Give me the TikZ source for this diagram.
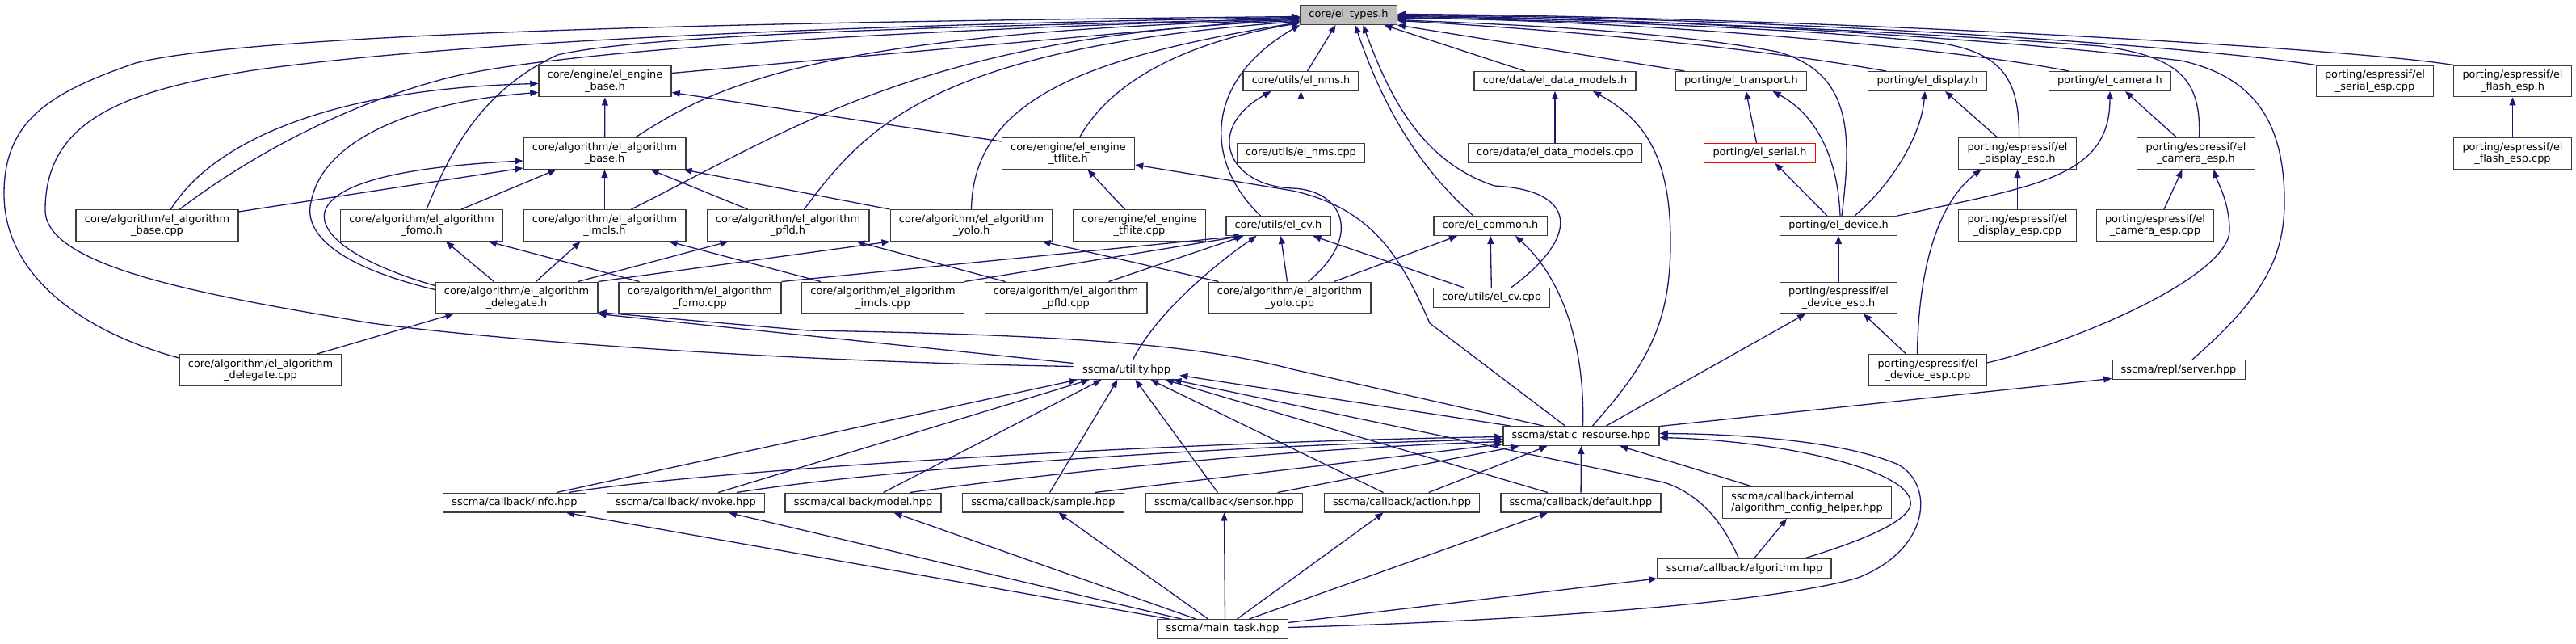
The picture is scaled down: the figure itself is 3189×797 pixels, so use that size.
\documentclass[tikz,border=0pt]{standalone}
\usepackage{fontspec}
\setmainfont{DejaVu Sans}
\usetikzlibrary{arrows.meta}
\definecolor{linkblue}{RGB}{25, 25, 112}
\definecolor{rootgrey}{RGB}{191, 191, 191}
\definecolor{boxline}{RGB}{60, 60, 60}

\begin{document}
\begin{tikzpicture}[x=1pt, y=-1pt,
  filebox/.style={draw=boxline, line width=1.3pt, fill=white, inner xsep=10.8pt, inner ysep=0pt,
    minimum height=23.7pt, font=\fontsize{12.9pt}{14.7pt}\selectfont},
  twobox/.style={filebox, align=center, minimum height=38.7pt},
  link/.style={linkblue, line width=1.3pt, -{Triangle[length=10pt,width=8pt]}}]
  \useasboundingbox (0,0) rectangle (3189,797);
  % Root header
  \node[filebox, fill=rootgrey] (types) at (1669.5,18.5) {core/el\_types.h};
  % Second row
  \node[twobox] (ebase) at (749,100.5) {core/engine/el\_engine\\\_base.h};
  \node[filebox] (nms) at (1610.5,100.5) {core/utils/el\_nms.h};
  \node[filebox] (dmh) at (1925,100.5) {core/data/el\_data\_models.h};
  \node[filebox] (transport) at (2155.5,100.5) {porting/el\_transport.h};
  \node[filebox] (display) at (2386,100.5) {porting/el\_display.h};
  \node[filebox] (camera) at (2612,100.5) {porting/el\_camera.h};
  \node[twobox] (serialesp) at (2940,100.5) {porting/espressif/el\\\_serial\_esp.cpp};
  \node[twobox] (flashesph) at (3110.5,100.5) {porting/espressif/el\\\_flash\_esp.h};
  % Third row
  \node[twobox] (abase) at (748.5,190) {core/algorithm/el\_algorithm\\\_base.h};
  \node[twobox] (tflh) at (1322.5,190) {core/engine/el\_engine\\\_tflite.h};
  \node[filebox] (nmscpp) at (1610.5,189.5) {core/utils/el\_nms.cpp};
  \node[filebox] (dmcpp) at (1925,189.5) {core/data/el\_data\_models.cpp};
  \node[filebox, draw=red] (serial) at (2178.5,189.5) {porting/el\_serial.h};
  \node[twobox] (dispesph) at (2497.5,190) {porting/espressif/el\\\_display\_esp.h};
  \node[twobox] (camesph) at (2718.5,190) {porting/espressif/el\\\_camera\_esp.h};
  \node[twobox] (flashespcpp) at (3110.5,190) {porting/espressif/el\\\_flash\_esp.cpp};
  % Fourth row
  \node[twobox] (bcpp) at (194.5,279) {core/algorithm/el\_algorithm\\\_base.cpp};
  \node[twobox] (fomoh) at (522,279) {core/algorithm/el\_algorithm\\\_fomo.h};
  \node[twobox] (imclsh) at (748.5,279) {core/algorithm/el\_algorithm\\\_imcls.h};
  \node[twobox] (pfldh) at (975.5,279) {core/algorithm/el\_algorithm\\\_pfld.h};
  \node[twobox] (yoloh) at (1202.5,279) {core/algorithm/el\_algorithm\\\_yolo.h};
  \node[twobox] (tflcpp) at (1410.5,279) {core/engine/el\_engine\\\_tflite.cpp};
  \node[filebox] (cvh) at (1582.5,279.5) {core/utils/el\_cv.h};
  \node[filebox] (common) at (1845,279.5) {core/el\_common.h};
  \node[filebox] (device) at (2276,279.5) {porting/el\_device.h};
  \node[twobox] (dispespcpp) at (2497.5,279) {porting/espressif/el\\\_display\_esp.cpp};
  \node[twobox] (camespcpp) at (2668,279) {porting/espressif/el\\\_camera\_esp.cpp};
  % Fifth row
  \node[twobox] (dh) at (639.5,368.5) {core/algorithm/el\_algorithm\\\_delegate.h};
  \node[twobox] (fomocpp) at (866.5,368.5) {core/algorithm/el\_algorithm\\\_fomo.cpp};
  \node[twobox] (imclscpp) at (1093,368.5) {core/algorithm/el\_algorithm\\\_imcls.cpp};
  \node[twobox] (pfldcpp) at (1319.5,368.5) {core/algorithm/el\_algorithm\\\_pfld.cpp};
  \node[twobox] (yolocpp) at (1596.5,368.5) {core/algorithm/el\_algorithm\\\_yolo.cpp};
  \node[filebox] (cvcpp) at (1846.5,368.5) {core/utils/el\_cv.cpp};
  \node[twobox] (desph) at (2276,368.5) {porting/espressif/el\\\_device\_esp.h};
  % Sixth row
  \node[twobox] (dcpp) at (322.5,458) {core/algorithm/el\_algorithm\\\_delegate.cpp};
  \node[filebox] (util) at (1394.5,457.5) {sscma/utility.hpp};
  \node[twobox] (despcpp) at (2386.5,458) {porting/espressif/el\\\_device\_esp.cpp};
  \node[filebox] (server) at (2697,457.5) {sscma/repl/server.hpp};
  % Resource hub and callbacks
  \node[filebox] (res) at (1957.5,539.5) {sscma/static\_resourse.hpp};
  \foreach \n/\x/\f in {info/637/info, invoke/849/invoke, model/1068.5/model, sample/1291.5/sample,
      sensor/1515.5/sensor, action/1735.5/action, dflt/1957/default}
    \node[filebox] (\n) at (\x,622) {sscma/callback/\f.hpp};
  \node[filebox, align=left, minimum height=38.7pt] (helper) at (2237,622) {sscma/callback/internal\\/algorithm\_config\_helper.hpp};
  \node[filebox] (algo) at (2159.5,703.5) {sscma/callback/algorithm.hpp};
  \node[filebox] (main) at (1513.5,778.5) {sscma/main\_task.hpp};

  % Into the root from the left
  \draw[link] ([yshift=-5pt]dcpp.north west) .. controls (100,410) and (5,340) .. (5,240) .. controls (5,150) and (60,115) .. (168,78) .. controls (300,45) and (800,28) .. ([yshift=-2pt]types.west);
  \draw[link] ([yshift=4pt]util.west) .. controls (1000,448) and (650,425) .. (460,400) .. controls (250,365) and (56,330) .. (56,260) .. controls (56,150) and (150,112) .. (320,86) .. controls (600,48) and (1100,30) .. ([yshift=-3pt]types.west);
  \draw[link] ([xshift=28pt]bcpp.north) .. controls (300,200) and (420,130) .. (560,95) .. controls (700,62) and (1100,38) .. ([yshift=-4pt]types.west);
  \draw[link] ([xshift=6pt]fomoh.north) .. controls (560,180) and (600,110) .. (690,68) .. controls (800,42) and (1200,32) .. ([yshift=-5pt]types.west);
  \draw[link] ([yshift=10pt]ebase.east) -- ([yshift=-3pt]types.west);
  \draw[link] ([xshift=38pt]abase.north) .. controls (880,110) and (1000,40) .. ([yshift=-6pt]types.west);
  \draw[link] ([xshift=33pt]imclsh.north) .. controls (981,159) and (1150,42) .. ([yshift=-7pt]types.west);
  \draw[link] ([xshift=20pt]pfldh.north) .. controls (1070,160) and (1150,60) .. ([yshift=-8pt]types.west);
  \draw[link] (yoloh.north) .. controls (1205,120) and (1350,70) .. ([yshift=-9pt]types.west);
  \draw[link] ([xshift=14pt]tflh.north) .. controls (1370,110) and (1450,55) .. ([yshift=-10pt]types.west);
  \draw[link] ([xshift=-22pt]cvh.north) .. controls (1490,200) and (1490,100) .. (types.south west);
  % Into the root from below
  \draw[link] ([xshift=8pt]nms.north) -- ([xshift=-16pt]types.south);
  \draw[link] ([xshift=-21pt]common.north) .. controls (1760,210) and (1715,140) .. ([xshift=8pt]types.south);
  \draw[link] ([xshift=24pt]cvcpp.north) .. controls (1960,290) and (1950,235) .. (1850,230) .. controls (1760,200) and (1720,120) .. ([xshift=18pt]types.south);
  \draw[link] ([xshift=-37pt]dmh.north) -- ([xshift=44pt]types.south);
  % Into the root from the right
  \draw[link] ([xshift=-70pt]transport.north) -- (types.south east);
  \draw[link] ([xshift=4pt]device.north) .. controls (2292,170) and (2295,90) .. (2200,64) .. controls (2050,36) and (1850,30) .. ([yshift=-6pt]types.east);
  \draw[link] ([xshift=-51pt]display.north) .. controls (2150,55) and (1900,35) .. ([yshift=-7pt]types.east);
  \draw[link] ([xshift=2pt]dispesph.north) .. controls (2500,100) and (2480,65) .. (2400,53) .. controls (2200,32) and (1900,24) .. ([yshift=-4pt]types.east);
  \draw[link] ([xshift=-51pt]camera.north) .. controls (2450,65) and (2100,28) .. ([yshift=-3pt]types.east);
  \draw[link] ([xshift=4pt]camesph.north) .. controls (2725,100) and (2700,70) .. (2600,57) .. controls (2300,35) and (2000,24) .. ([yshift=-2pt]types.east);
  \draw[link] ([xshift=17pt]server.north) .. controls (2800,370) and (2828,320) .. (2828,250) .. controls (2828,150) and (2790,95) .. (2700,75) .. controls (2400,40) and (2000,22) .. ([yshift=-1pt]types.east);
  \draw[link] (serialesp.north west) .. controls (2700,55) and (2200,22) .. (types.east);
  \draw[link] (flashesph.north west) .. controls (2900,58) and (2200,20) .. ([yshift=1pt]types.east);

  % Engine and algorithm bases
  \draw[link] (abase) -- (ebase);
  \draw[link] ([xshift=17pt]bcpp.north) .. controls (260,180) and (400,110) .. ([yshift=-3pt]ebase.west);
  \draw[link] ([yshift=10pt]dh.west) .. controls (420,330) and (375,290) .. (385,250) .. controls (400,170) and (520,125) .. ([yshift=-14pt]ebase.west);
  \draw[link] ([yshift=15pt]tflh.west) -- ([yshift=-14pt]ebase.east);
  \draw[link] ([yshift=17pt]bcpp.east) -- ([yshift=-18pt]abase.west);
  \draw[link] ([yshift=15pt]dh.west) .. controls (440,325) and (395,290) .. (402,262) .. controls (415,220) and (530,205) .. ([yshift=-9pt]abase.west);
  \draw[link] ([xshift=49pt]fomoh.north) -- ([xshift=-60pt]abase.south);
  \draw[link] (imclsh) -- (abase);
  \draw[link] ([xshift=-50pt]pfldh.north) -- ([xshift=57pt]abase.south);
  \draw[link] (yoloh.north west) -- ([xshift=-3pt]abase.south east);
  \draw[link] ([xshift=-18pt]tflcpp.north) -- ([xshift=24pt]tflh.south);
  % Delegate and algorithm sources
  \draw[link] ([xshift=-28pt]dh.north) -- ([xshift=30pt]fomoh.south);
  \draw[link] ([xshift=24pt]dh.north) -- ([xshift=-30pt]imclsh.south);
  \draw[link] ([xshift=76pt]dh.north) -- ([xshift=-74pt]pfldh.south);
  \draw[link] (dh.north east) -- (yoloh.south west);
  \draw[link] ([xshift=70pt]dcpp.north) -- ([xshift=-78pt]dh.south);
  \draw[link] ([xshift=-75pt]fomocpp.north) -- ([xshift=83pt]fomoh.south);
  \draw[link] (fomocpp.north east) -- ([xshift=-45pt]cvh.south);
  \draw[link] ([xshift=-77pt]imclscpp.north) -- ([xshift=80pt]imclsh.south);
  \draw[link] (imclscpp.north east) -- ([xshift=-44pt]cvh.south);
  \draw[link] ([xshift=-75pt]pfldcpp.north) -- ([xshift=85pt]pfldh.south);
  \draw[link] ([xshift=53pt]pfldcpp.north) -- ([xshift=-43pt]cvh.south);
  \draw[link] ([xshift=-88pt]yolocpp.north) -- ([xshift=88pt]yoloh.south);
  \draw[link] ([xshift=-3pt]yolocpp.north) -- ([xshift=3pt]cvh.south);
  \draw[link] ([xshift=23pt]yolocpp.north) .. controls (1690,290) and (1660,235) .. (1600,233) .. controls (1520,230) and (1490,160) .. ([xshift=-37pt]nms.south);
  \draw[link] ([xshift=55pt]yolocpp.north) -- ([xshift=-41pt]common.south);
  \draw[link] (nmscpp) -- (nms);
  \draw[link] ([xshift=-34pt]cvcpp.north) -- ([xshift=43pt]cvh.south);
  \draw[link] (cvcpp) -- (common);
  \draw[link] (dmcpp) -- (dmh);
  \draw[link] ([xshift=8pt]util.north) .. controls (1430,390) and (1500,330) .. ([xshift=-27pt]cvh.south);

  % Porting side
  \draw[link] ([xshift=-4pt]serial.north) -- ([xshift=6pt]transport.south);
  \draw[link] ([xshift=-14pt]device.north) -- ([xshift=19pt]serial.south);
  \draw[link] ([xshift=2pt]device.north) .. controls (2275,190) and (2245,140) .. ([xshift=39pt]transport.south);
  \draw[link] ([xshift=20pt]device.north) .. controls (2340,230) and (2378,170) .. ([xshift=-3pt]display.south);
  \draw[link] (device.north east) .. controls (2520,230) and (2612,220) .. (camera.south);
  \draw[link] (desph) -- (device);
  \draw[link] ([xshift=-27pt]despcpp.north) -- ([xshift=31pt]desph.south);
  \draw[link] ([xshift=-25pt]dispesph.north) -- ([xshift=22pt]display.south);
  \draw[link] (dispespcpp) -- (dispesph);
  \draw[link] ([xshift=-13pt]despcpp.north) .. controls (2375,330) and (2400,250) .. ([xshift=-45pt]dispesph.south);
  \draw[link] ([xshift=-24pt]camesph.north) -- ([xshift=19pt]camera.south);
  \draw[link] ([xshift=11pt]camespcpp.north) -- ([xshift=-17pt]camesph.south);
  \draw[link] ([yshift=9pt]despcpp.east) .. controls (2580,420) and (2760,340) .. (2760,285) .. controls (2760,250) and (2745,225) .. ([xshift=22pt]camesph.south);
  \draw[link] (flashespcpp) -- (flashesph);

  % Resource hub
  \draw[link] ([xshift=-20pt]res.north) -- (1770,400) .. controls (1735,320) and (1700,258) .. (1600,236) -- ([yshift=-14pt]tflh.east);
  \draw[link] ([xshift=14pt]res.north) .. controls (2040,450) and (2068,400) .. (2068,300) .. controls (2068,200) and (2040,150) .. ([xshift=47pt]dmh.south);
  \draw[link] ([xshift=2pt]res.north) .. controls (1962,440) and (1940,350) .. ([xshift=31pt]common.south);
  \draw[link] ([xshift=31pt]res.north) -- ([xshift=-41pt]desph.south);
  \draw[link] ([yshift=12pt]res.east) -- ([yshift=-11pt]server.west);
  \draw[link] ([xshift=-47pt]res.north) -- (1600,457) .. controls (1480,425) and (1300,414) .. (1000,409) -- ([yshift=2pt]dh.south east);
  \draw[link] ([xshift=-88pt]res.north) -- ([yshift=-7pt]util.east);
  \draw[link] ([yshift=8pt]util.west) -- (dh.south east);

  % Callbacks
  \foreach \n/\s/\t in {info/52/-61, invoke/40/-46, model/25/-31, sample/8/-11, sensor/-8/11, action/-23/30, dflt/-41/48}
    \draw[link] ([xshift=\s pt]\n.north) -- ([xshift=\t pt]util.south);
  \draw[link] ([xshift=67pt]info.north) .. controls (850,585) and (1400,548) .. ([yshift=-1pt]res.west);
  \draw[link] ([xshift=63pt]invoke.north) .. controls (1100,580) and (1500,552) .. ([yshift=-4pt]res.west);
  \draw[link] ([xshift=58pt]model.north) .. controls (1300,585) and (1600,555) .. ([yshift=-7pt]res.west);
  \draw[link] ([xshift=64pt]sample.north) -- ([yshift=-10pt]res.west);
  \draw[link] ([xshift=66pt]sensor.north) -- ([xshift=-77pt]res.south);
  \draw[link] ([xshift=33pt]action.north) -- ([xshift=-42pt]res.south);
  \draw[link] (dflt) -- (res);
  \draw[link] ([xshift=-7pt]algo.north) .. controls (2130,640) and (2100,610) .. (2060,597) -- ([xshift=58pt]util.south);
  \draw[link] ([xshift=12pt]algo.north) -- ([xshift=-25pt]helper.south);
  \draw[link] ([xshift=-68pt]helper.north) -- ([xshift=48pt]res.south);
  \draw[link] ([xshift=74pt]algo.north) .. controls (2320,665) and (2370,640) .. (2365,620) .. controls (2360,580) and (2200,545) .. ([yshift=-2pt]res.east);
  % Main task
  \foreach \n/\s/\t in {info/-66/64, invoke/-51/53, model/-33/38, sample/-18/19, sensor/3/0, action/18/-23, dflt/33/-41}
    \draw[link] ([xshift=\s pt]main.north) -- ([xshift=\t pt]\n.south);
  \draw[link] ([yshift=8pt]main.east) -- (algo.south west);
  \draw[link] ([yshift=2pt]main.east) .. controls (1900,768) and (2200,745) .. (2300,715) .. controls (2390,680) and (2395,600) .. (2350,575) .. controls (2280,545) and (2150,537) .. ([yshift=3pt]res.east);
\end{tikzpicture}
\end{document}
